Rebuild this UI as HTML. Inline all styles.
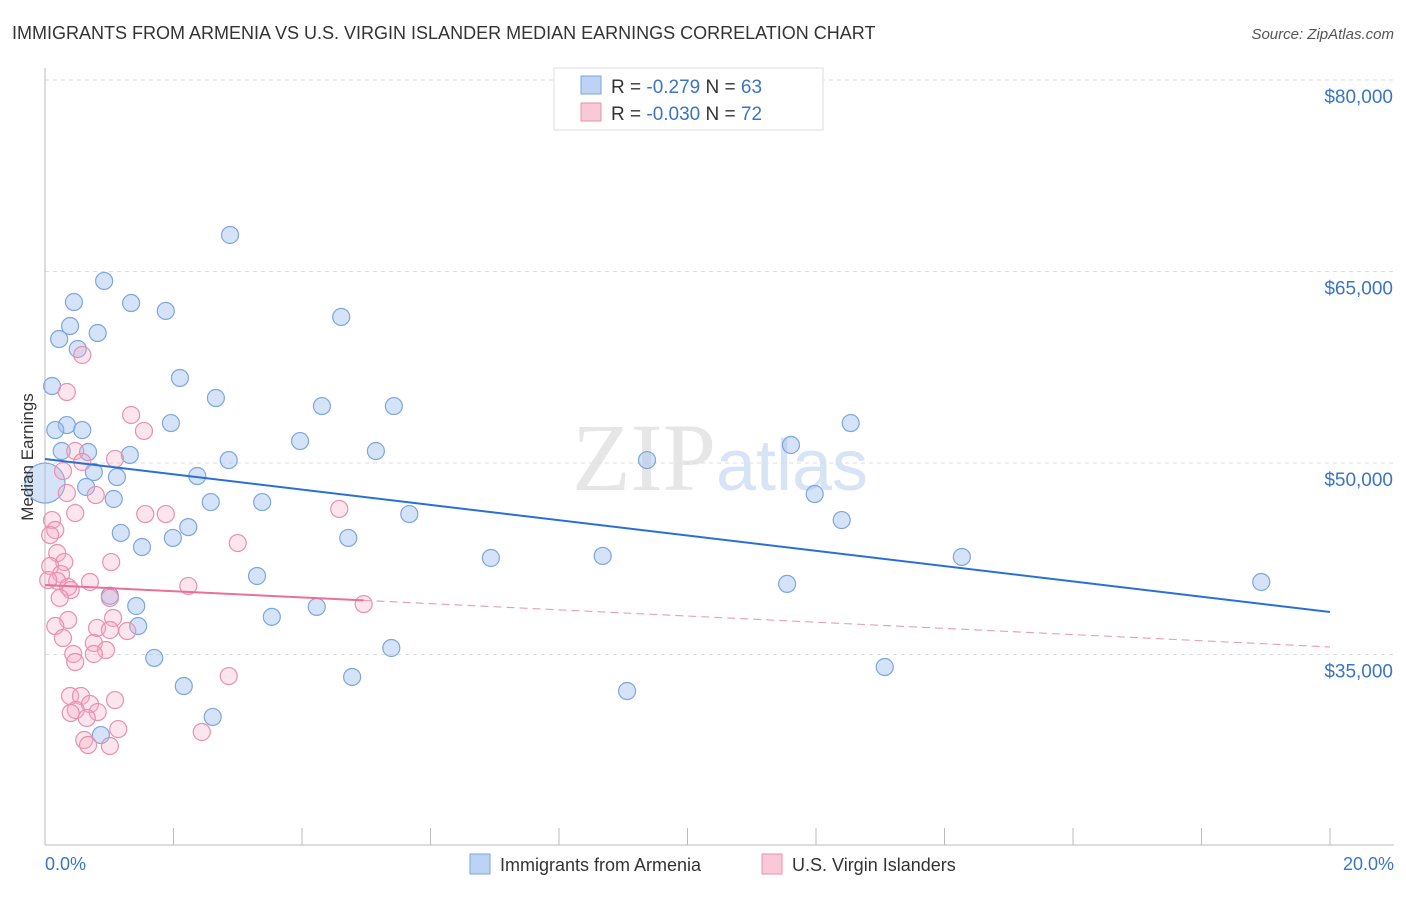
<!DOCTYPE html>
<html><head><meta charset="utf-8"><style>
body{margin:0;background:#fff;font-family:"Liberation Sans",sans-serif;}
</style></head><body>
<svg id="chart" width="1406" height="892" xmlns="http://www.w3.org/2000/svg" font-family="Liberation Sans, sans-serif">
<text x="12" y="39" font-size="18" fill="#333">IMMIGRANTS FROM ARMENIA VS U.S. VIRGIN ISLANDER MEDIAN EARNINGS CORRELATION CHART</text>
<text x="1394" y="39" font-size="15" fill="#555" text-anchor="end" font-style="italic">Source: ZipAtlas.com</text>
<text x="720" y="490" font-size="96" fill="#e6e6e6" text-anchor="middle" font-family="Liberation Serif, serif">ZIP<tspan fill="#d6e4f5" font-family="Liberation Sans, sans-serif" font-size="72">atlas</tspan></text>
<g id="grid"></g>
<g id="axes"></g>
<g id="marks"></g>
<text transform="translate(33,457) rotate(-90)" font-size="17" fill="#333" text-anchor="middle">Median Earnings</text>
<text x="45" y="870" font-size="18" fill="#3a75c4">0.0%</text>
<text x="1394" y="870" font-size="18" fill="#3a75c4" text-anchor="end">20.0%</text>
<g>
<rect x="554" y="68" width="269" height="62" fill="#fff" stroke="#ddd"/>
<rect x="581" y="76" width="20" height="18" fill="#bcd3f3" stroke="#7ea6dc"/>
<rect x="581" y="103" width="20" height="18" fill="#f9c9d8" stroke="#e891ad"/>
<text x="611" y="93" font-size="19" fill="#333">R = <tspan fill="#3a75c4">-0.279</tspan>   N = <tspan fill="#3a75c4">63</tspan></text>
<text x="611" y="120" font-size="19" fill="#333">R = <tspan fill="#3a75c4">-0.030</tspan>   N = <tspan fill="#3a75c4">72</tspan></text>
</g>
<g>
<rect x="470" y="854" width="20" height="20" fill="#bcd3f3" stroke="#7ea6dc"/>
<text x="500" y="871" font-size="18" fill="#333">Immigrants from Armenia</text>
<rect x="762" y="854" width="20" height="20" fill="#f9c9d8" stroke="#e891ad"/>
<text x="792" y="871" font-size="18" fill="#333">U.S. Virgin Islanders</text>
</g>
</svg>
<script>
const yTicks=[35000,50000,65000,80000];
const yTickLabels=["$35,000","$50,000","$65,000","$80,000"];
const xTicks=[0,2,4,6,8,10,12,14,16,18,20];
const blueX=[2.88,0.92,0.45,1.34,1.88,4.61,0.39,0.82,0.22,0.51,2.10,0.11,2.66,4.31,5.43,0.34,0.16,0.58,1.96,12.54,3.97,11.61,0.26,0.67,1.32,5.15,2.86,9.37,0.76,2.37,1.12,0.64,1.07,2.58,3.38,11.98,5.67,12.40,2.23,1.18,1.99,4.72,1.51,6.94,8.68,14.27,18.93,3.30,11.55,1.01,1.42,4.23,3.53,1.45,5.39,1.70,13.07,4.78,2.16,9.06,2.61,0.87];
const blueY=[67860,64260,62610,62530,61910,61440,60730,60180,59710,58930,56660,56030,55090,54460,54460,52970,52580,52580,53130,53130,51720,51410,50940,50860,50630,50940,50230,50230,49290,48980,48900,48120,47180,46940,46940,47570,46000,45530,44980,44520,44130,44130,43420,42560,42720,42640,40680,41150,40530,39600,38800,38730,37950,37230,35510,34730,34020,33240,32530,32140,30110,28690];
const pinkX=[0.58,0.34,1.34,1.54,0.47,1.09,0.58,0.28,0.79,0.34,1.56,1.88,4.58,0.47,0.11,0.16,0.08,3.00,0.19,0.30,1.03,0.08,0.25,0.19,0.70,0.36,2.23,0.05,0.40,0.23,1.01,4.96,0.36,1.06,0.16,0.81,1.28,1.01,0.28,0.76,0.95,0.44,0.76,0.47,2.86,0.39,0.56,1.09,0.70,0.48,0.82,0.40,0.65,1.14,2.44,0.61,0.67,1.01];
const pinkY=[58460,55560,53760,52510,50940,50320,50080,49370,47490,47650,46000,46000,46400,46080,45530,44750,44360,43730,42950,42240,42240,41930,41300,40760,40680,40290,40370,40830,40050,39430,39430,38950,37700,37860,37230,37080,36840,36920,36290,35900,35350,35040,35040,34410,33310,31750,31750,31430,31120,30650,30490,30420,30030,29160,28930,28300,27910,27830];
const bigBlue=[0.0,48430];
const blueTrend=[[0,50310],[20,38330]];
const pinkTrend=[[0,40440],[20,35590]];
const pinkSolidEnd=4.96;

const NS="http://www.w3.org/2000/svg";
const sx=v=>45+v/20*1285;
const sy=v=>80+(80000-v)/15000*191.5;
function mk(tag,attrs,parent){const e=document.createElementNS(NS,tag);for(const k in attrs)e.setAttribute(k,attrs[k]);parent.appendChild(e);return e;}
const grid=document.getElementById('grid'),axes=document.getElementById('axes'),marks=document.getElementById('marks');
yTicks.forEach((t,i)=>{
 const l=mk('line',{x1:45,x2:1394,y1:sy(t),y2:sy(t),stroke:'#ddd','stroke-dasharray':'4,4'},grid);
 
 
 const tx=mk('text',{x:1393,y:sy(t)+23,'font-size':19,fill:'#3a75c4','text-anchor':'end'},axes);
 tx.textContent=yTickLabels[i];
 
 
});
const ax=mk('line',{x1:45,x2:1394,y1:845,y2:845,stroke:'#bbb'},axes);


const ay=mk('line',{x1:45,x2:45,y1:68,y2:845,stroke:'#bbb'},axes);


xTicks.forEach(t=>{
 const l=mk('line',{x1:sx(t),x2:sx(t),y1:828,y2:845,stroke:'#bbb'},axes);
 
 
});
function dot(x,y,r,fill,stroke,name){
 const c=mk('circle',{cx:sx(x),cy:sy(y),r:r,fill:fill,stroke:stroke,'stroke-width':1.2},marks);
 
 
}
blueX.forEach((x,i)=>dot(x,blueY[i],8.5,'rgba(160,192,238,0.45)','#7ea6dc','armenia-point'));
dot(bigBlue[0],bigBlue[1],20,'rgba(160,192,238,0.45)','#7ea6dc','armenia-point-large');
pinkX.forEach((x,i)=>dot(x,pinkY[i],8.5,'rgba(245,170,195,0.3)','#e891ad','virgin-islander-point'));
const bl=mk('line',{x1:sx(blueTrend[0][0]),y1:sy(blueTrend[0][1]),x2:sx(blueTrend[1][0]),y2:sy(blueTrend[1][1]),stroke:'#2a6fd6','stroke-width':2},marks);


const pAt=x=>pinkTrend[0][1]+(pinkTrend[1][1]-pinkTrend[0][1])*(x-pinkTrend[0][0])/(pinkTrend[1][0]-pinkTrend[0][0]);
const ps=mk('line',{x1:sx(0),y1:sy(pAt(0)),x2:sx(pinkSolidEnd),y2:sy(pAt(pinkSolidEnd)),stroke:'#e8709a','stroke-width':2},marks);


const pd=mk('line',{x1:sx(pinkSolidEnd),y1:sy(pAt(pinkSolidEnd)),x2:sx(20),y2:sy(pAt(20)),stroke:'#e8a0b8','stroke-width':1.2,'stroke-dasharray':'8,5'},marks);


</script>
</body></html>
